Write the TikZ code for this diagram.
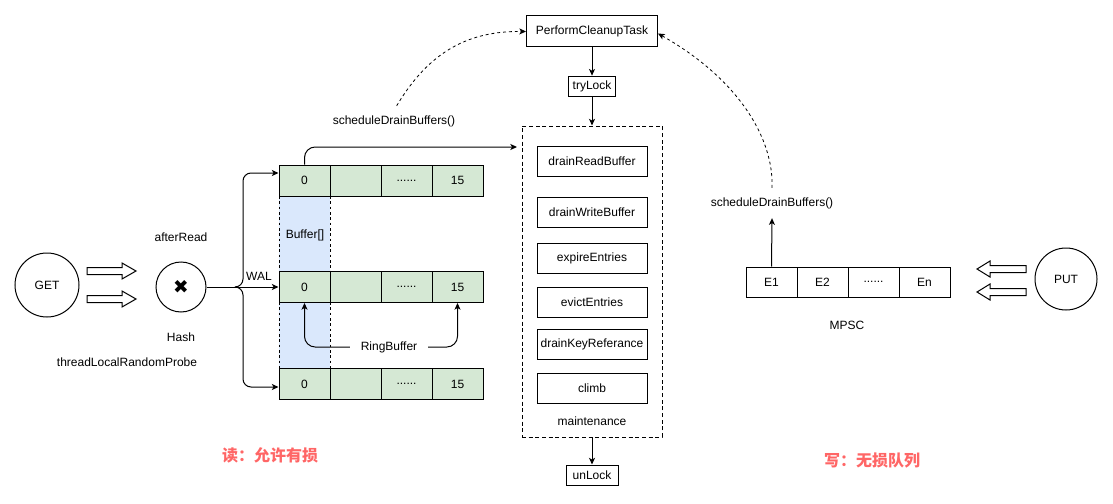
\documentclass[tikz,border=0pt]{standalone}
\usepackage{fontspec}
\setmainfont{Liberation Sans}
\newfontfamily\cjk{Noto Sans CJK SC}
\newfontfamily\dejavu{DejaVu Sans}
\usetikzlibrary{arrows.meta,calc}
\definecolor{cellgreen}{HTML}{D5E8D4}
\definecolor{cellblue}{HTML}{DAE8FC}
\definecolor{redtxt}{HTML}{FF6666}
\newcommand{\hollowright}[2]{\draw[line width=0.75pt] (#1,#2-3.5) -- ++(35,0) -- ++(0,-4.5) -- (#1+49,#2) -- (#1+35,#2+8) -- ++(0,-4.5) -- (#1,#2+3.5) -- cycle;}
\newcommand{\hollowleft}[2]{\draw[line width=0.75pt] (#1,#2-3.5) -- ++(-36,0) -- ++(0,-4.5) -- (#1-49,#2) -- (#1-36,#2+8) -- ++(0,-4.5) -- (#1,#2+3.5) -- cycle;}
\begin{document}
\begin{tikzpicture}[x=0.75pt,y=-0.75pt,
  font=\fontsize{9}{11}\selectfont,
  every node/.style={inner sep=0pt},
  arr/.style={-{Stealth[length=5pt,width=4.5pt,inset=1.3pt]}, line width=0.75pt},
  darr/.style={arr, dash pattern=on 2.2pt off 2.2pt, line width=0.6pt},
  box/.style={draw, line width=0.75pt, fill=white},
  cell/.style={draw, line width=0.75pt, fill=cellgreen, minimum width=38.25pt, minimum height=23.25pt},
  mcell/.style={draw, line width=0.75pt, fill=white, minimum width=38.25pt, minimum height=22.5pt},
  circ/.style={draw, circle, line width=0.75pt},
  mbox/.style={box, minimum width=82.5pt, minimum height=22.5pt},
  sdb/.style={inner xsep=0pt, inner ysep=7pt},
  cjktxt/.style={font=\cjk\bfseries\fontsize{12}{14}\selectfont, text=redtxt}
]
\useasboundingbox (0,0) rectangle (1113,503);

% ---------- left: GET, hash ----------
\node[circ, minimum size=48pt] (get) at (47,285) {GET};
\hollowright{87}{271}
\hollowright{87}{299}
\node[circ, minimum size=37.5pt] (hash) at (181,287) {\dejavu\fontsize{14}{14}\selectfont ✖};
\node (afterread) at (181,237) {afterRead};
\node (hashlbl) at (181,337) {Hash};
\node (tlrp) at (127,362) {threadLocalRandomProbe};

% ---------- buffers ----------
\fill[cellblue] (279,196) rectangle (330,272);
\fill[cellblue] (279,302) rectangle (330,369);
\draw[line width=0.6pt, dash pattern=on 2pt off 2pt] (279,196) -- (279,272) (330,196) -- (330,272);
\draw[line width=0.6pt, dash pattern=on 2pt off 2pt] (279,302) -- (279,369) (330,302) -- (330,369);
\node (bufarr) at (305,235) {Buffer[]};

\foreach \r/\y in {1/180.5, 2/287, 3/384} {
  \node[cell] (r\r c0) at (304.5,\y) {0};
  \node[cell] (r\r c1) at (355.5,\y) {};
  \node[cell] (r\r c2) at (406.5,\y) {......};
  \node[cell] (r\r c3) at (457.5,\y) {15};
}

\coordinate (br) at (237,287);
\coordinate (bu) at (243,173);
\coordinate (bd) at (243,387);
\draw[line width=0.75pt] (hash.east) -- (br);
\draw[arr, rounded corners=6] (br) -| (bu) -- (r1c0.west |- bu);
\draw[arr, rounded corners=6] (br) -| (bd) -- (r3c0.west |- bd);
\draw[arr] (br) -- (r2c0.west);
\node (wal) at (259,276) {WAL};

\node[inner xsep=8pt] (rb) at (389,347) {RingBuffer};
\draw[arr, rounded corners=8] (rb.west) -| (r2c0.south);
\draw[arr, rounded corners=8] (rb.east) -| (r2c3.south);

% ---------- maintenance ----------
\node[box, minimum width=98.25pt, minimum height=23.25pt] (pct) at (592,31.5) {PerformCleanupTask};
\node[box, minimum width=35pt, minimum height=15.5pt] (tl) at (592,86.5) {tryLock};
\node[draw, line width=0.75pt, dash pattern=on 3pt off 2pt, minimum width=105pt, minimum height=233.25pt] (maint) at (592,281.5) {};
\node[mbox] (drb) at (592,161.5) {drainReadBuffer};
\node[mbox] (dwb) at (592,212) {drainWriteBuffer};
\node[mbox] (exe) at (592,258) {expireEntries};
\node[mbox] (eve) at (592,302) {evictEntries};
\node[mbox] (dkr) at (592,344) {drainKeyReferance};
\node[mbox] (clm) at (592,388) {climb};
\node (mainlbl) at (592,421) {maintenance};
\node[box, minimum width=39pt, minimum height=15pt] (ul) at (592,475) {unLock};

\draw[arr] (pct.south) -- (tl.north);
\draw[arr] (tl.south) -- (maint.north);
\draw[arr] (maint.south) -- (ul.north);

\coordinate (sdend) at (517,147);
\draw[arr, rounded corners=8] (r1c0.north) |- (sdend);
\node[sdb] (sdb1) at (394,121) {scheduleDrainBuffers()};
\draw[darr] ([xshift=2pt]sdb1.north) .. controls (430,50) and (470,31) .. (pct.west);

% ---------- right: MPSC ----------
\node[mcell] (e1) at (771.5,282) {E1};
\node[mcell] (e2) at (822.5,282) {E2};
\node[mcell] (e3) at (873.5,282) {......};
\node[mcell] (en) at (924.5,282) {En};
\node (mpsc) at (847,325) {MPSC};
\node[sdb] (sdb2) at (772,203) {scheduleDrainBuffers()};
\draw[arr] (e1.north) -- (sdb2.south);
\draw[darr] (sdb2.north) .. controls (774,140) and (740,80) .. ([yshift=-1.5pt]pct.east);

\hollowleft{1026}{269}
\hollowleft{1026}{292}
\node[circ, minimum size=46.5pt] (put) at (1066,279) {PUT};

% ---------- captions ----------
\node[cjktxt] (readcap) at (270,455) {读：允许有损};
\node[cjktxt] (writecap) at (872,461) {写：无损队列};
\end{tikzpicture}
\end{document}
